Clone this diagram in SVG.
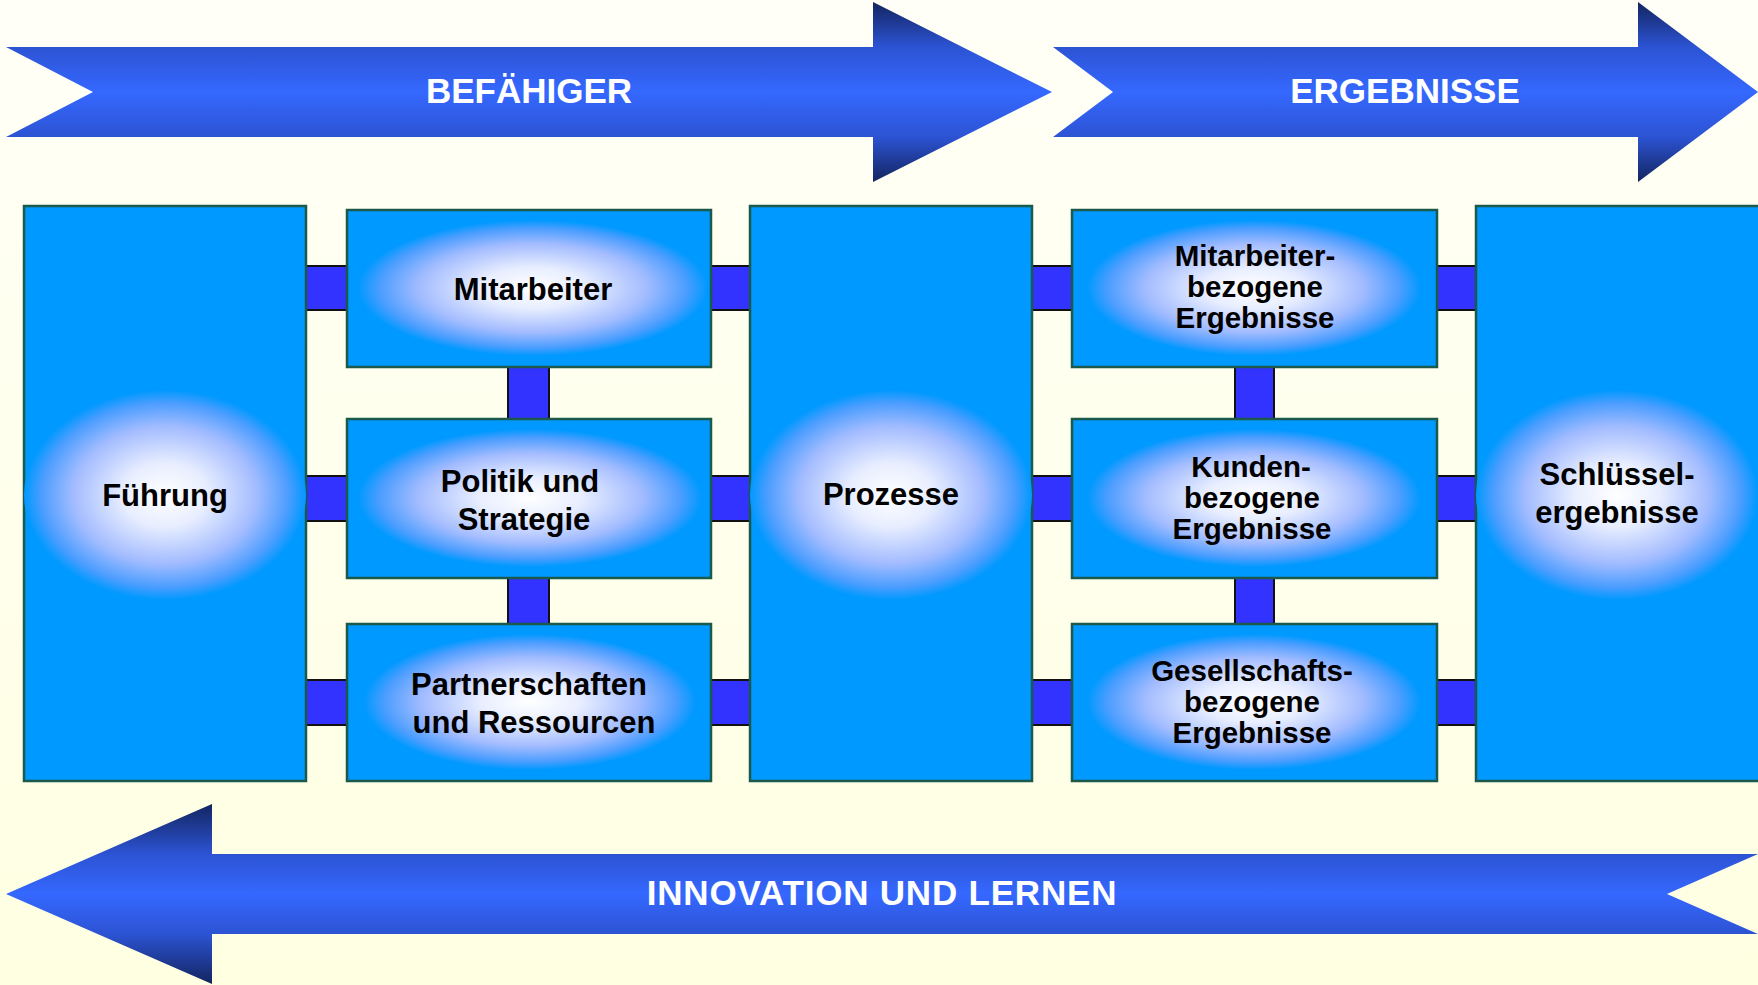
<svg xmlns="http://www.w3.org/2000/svg" width="1758" height="985" viewBox="0 0 1758 985">
<defs>
<linearGradient id="bg" x1="0" y1="0" x2="0" y2="1">
<stop offset="0" stop-color="#fffff7"/>
<stop offset="1" stop-color="#ffffe2"/>
</linearGradient>
<linearGradient id="arr" x1="0" y1="0" x2="0" y2="1">
<stop offset="0" stop-color="#132560"/>
<stop offset="0.25" stop-color="#2c53d3"/>
<stop offset="0.5" stop-color="#3568ff"/>
<stop offset="0.75" stop-color="#2c53d3"/>
<stop offset="1" stop-color="#132560"/>
</linearGradient>
<linearGradient id="arrB" x1="0" y1="0" x2="0" y2="1">
<stop offset="0" stop-color="#132560"/>
<stop offset="0.278" stop-color="#2c53d3"/>
<stop offset="0.5" stop-color="#3568ff"/>
<stop offset="0.722" stop-color="#2c53d3"/>
<stop offset="1" stop-color="#132560"/>
</linearGradient>
<radialGradient id="glow">
<stop offset="0" stop-color="#ffffff"/>
<stop offset="0.3" stop-color="#e8eeff"/>
<stop offset="0.65" stop-color="#a3bcff"/>
<stop offset="0.88" stop-color="#4a9dff"/>
<stop offset="1" stop-color="#0099ff"/>
</radialGradient>
<style>
.box{fill:#0099ff;stroke:#1b5a4a;stroke-width:2.5}
.bar{fill:#3333ff;stroke:#111111;stroke-width:2}
.glow{fill:url(#glow)}
.t{font-family:"Liberation Sans",Arial,sans-serif;font-weight:bold;font-size:31px;fill:#000;text-anchor:middle}
.t3{font-size:29.5px}
.at{font-family:"Liberation Sans",Arial,sans-serif;font-weight:bold;font-size:35px;fill:#fff;text-anchor:middle}
</style>
</defs>
<rect x="0" y="0" width="1758" height="985" fill="url(#bg)"/>

<g id="arrow-befaehiger">
<polygon points="6,47 873,47 873,2 1052,92 873,182 873,137 6,137 93,92" fill="url(#arr)"/>
<text class="at" x="529" y="103">BEFÄHIGER</text>
</g>
<g id="arrow-ergebnisse">
<polygon points="1053,47 1638,47 1638,2 1758,92 1638,182 1638,137 1053,137 1113,92" fill="url(#arr)"/>
<text class="at" x="1405" y="103">ERGEBNISSE</text>
</g>
<g id="arrow-innovation">
<polygon points="6,894 212,804 212,854 1758,854 1667,894 1758,934 212,934 212,984" fill="url(#arrB)"/>
<text class="at" x="882" y="905" style="letter-spacing:0.8px">INNOVATION UND LERNEN</text>
</g>

<g id="connectors">
<rect class="bar" x="302" y="266" width="49" height="44"/>
<rect class="bar" x="302" y="476" width="49" height="45"/>
<rect class="bar" x="302" y="680" width="49" height="45"/>
<rect class="bar" x="707" y="266" width="47" height="44"/>
<rect class="bar" x="707" y="476" width="47" height="45"/>
<rect class="bar" x="707" y="680" width="47" height="45"/>
<rect class="bar" x="1028" y="266" width="48" height="44"/>
<rect class="bar" x="1028" y="476" width="48" height="45"/>
<rect class="bar" x="1028" y="680" width="48" height="45"/>
<rect class="bar" x="1433" y="266" width="47" height="44"/>
<rect class="bar" x="1433" y="476" width="47" height="45"/>
<rect class="bar" x="1433" y="680" width="47" height="45"/>
<rect class="bar" x="508" y="363" width="41" height="60"/>
<rect class="bar" x="508" y="574" width="41" height="54"/>
<rect class="bar" x="1235" y="363" width="39" height="60"/>
<rect class="bar" x="1235" y="574" width="39" height="54"/>
</g>

<g id="fuehrung">
<rect class="box" x="24" y="206" width="282" height="575"/>
<ellipse class="glow" cx="165" cy="495" rx="141" ry="105"/>
<text class="t" x="165" y="506">Führung</text>
</g>
<g id="mitarbeiter">
<rect class="box" x="347" y="210" width="364" height="157"/>
<ellipse class="glow" cx="533" cy="288" rx="175" ry="68"/>
<text class="t" x="533" y="300">Mitarbeiter</text>
</g>
<g id="politik">
<rect class="box" x="347" y="419" width="364" height="159"/>
<ellipse class="glow" cx="530" cy="498" rx="172" ry="69"/>
<text class="t" x="520" y="492">Politik und</text>
<text class="t" x="524" y="530">Strategie</text>
</g>
<g id="partner">
<rect class="box" x="347" y="624" width="364" height="157"/>
<ellipse class="glow" cx="530" cy="702" rx="166" ry="68"/>
<text class="t" x="529" y="695">Partnerschaften</text>
<text class="t" x="534" y="733">und Ressourcen</text>
</g>
<g id="prozesse">
<rect class="box" x="750" y="206" width="282" height="575"/>
<ellipse class="glow" cx="891" cy="495" rx="141" ry="105"/>
<text class="t" x="891" y="505">Prozesse</text>
</g>
<g id="mitarbeiterergebnisse">
<rect class="box" x="1072" y="210" width="365" height="157"/>
<ellipse class="glow" cx="1254" cy="288" rx="167" ry="68"/>
<text class="t t3" x="1255" y="266">Mitarbeiter-</text>
<text class="t t3" x="1255" y="297">bezogene</text>
<text class="t t3" x="1255" y="328">Ergebnisse</text>
</g>
<g id="kundenergebnisse">
<rect class="box" x="1072" y="419" width="365" height="159"/>
<ellipse class="glow" cx="1254" cy="498" rx="167" ry="69"/>
<text class="t t3" x="1251" y="477">Kunden-</text>
<text class="t t3" x="1252" y="508">bezogene</text>
<text class="t t3" x="1252" y="539">Ergebnisse</text>
</g>
<g id="gesellschaftsergebnisse">
<rect class="box" x="1072" y="624" width="365" height="157"/>
<ellipse class="glow" cx="1254" cy="702" rx="167" ry="68"/>
<text class="t t3" x="1252" y="681">Gesellschafts-</text>
<text class="t t3" x="1252" y="712">bezogene</text>
<text class="t t3" x="1252" y="743">Ergebnisse</text>
</g>
<g id="schluesselergebnisse">
<rect class="box" x="1476" y="206" width="290" height="575"/>
<ellipse class="glow" cx="1617" cy="495" rx="141" ry="105"/>
<text class="t" x="1617" y="485">Schlüssel-</text>
<text class="t" x="1617" y="523">ergebnisse</text>
</g>
</svg>
